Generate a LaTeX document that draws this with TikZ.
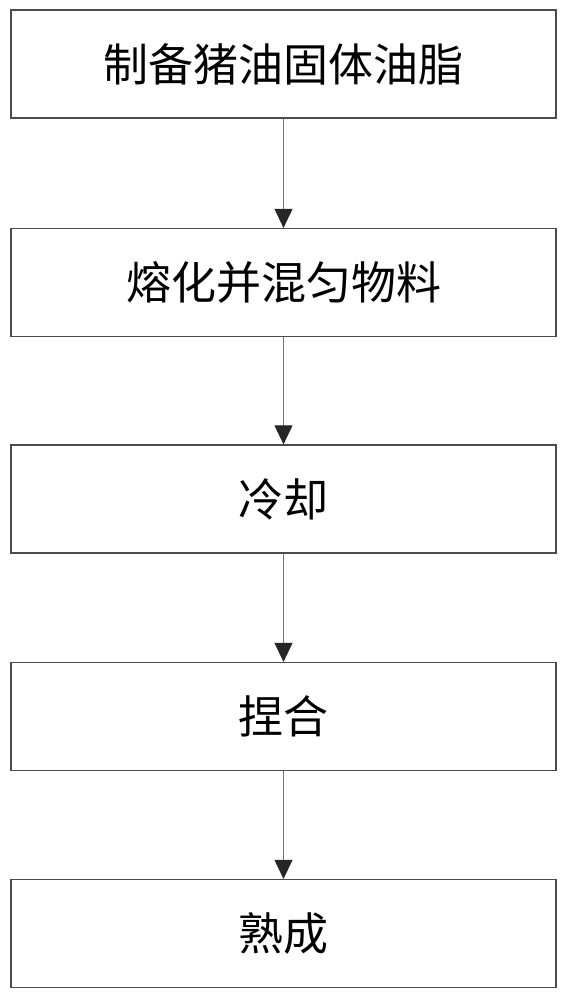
\documentclass[tikz,border=0pt]{standalone}
\usepackage{fontspec}
\newfontfamily\cjk{Noto Sans CJK SC}
\usetikzlibrary{arrows.meta}
\tikzset{
  stepbox/.style={draw=black!70, line width=1.2pt, minimum width=545pt, minimum height=108pt, inner sep=0pt, font=\cjk\fontsize{45}{54}\selectfont},
  flow/.style={draw=black!55, line width=0.9pt, -{Triangle[width=18pt,length=19pt,color=black!85,fill=black!85]}}
}
\begin{document}
\begin{tikzpicture}[x=1pt,y=-1pt]
\useasboundingbox (0,0) rectangle (568,1000);
\node[stepbox] (s1) at (283.5,64) {制备猪油固体油脂};
\node[stepbox] (s2) at (283.5,282.5) {熔化并混匀物料};
\node[stepbox] (s3) at (283.5,499) {冷却};
\node[stepbox] (s4) at (283.5,716.5) {捏合};
\node[stepbox] (s5) at (283.5,933.5) {熟成};
\draw[flow] (s1) -- (s2);
\draw[flow] (s2) -- (s3);
\draw[flow] (s3) -- (s4);
\draw[flow] (s4) -- (s5);
\end{tikzpicture}
\end{document}
